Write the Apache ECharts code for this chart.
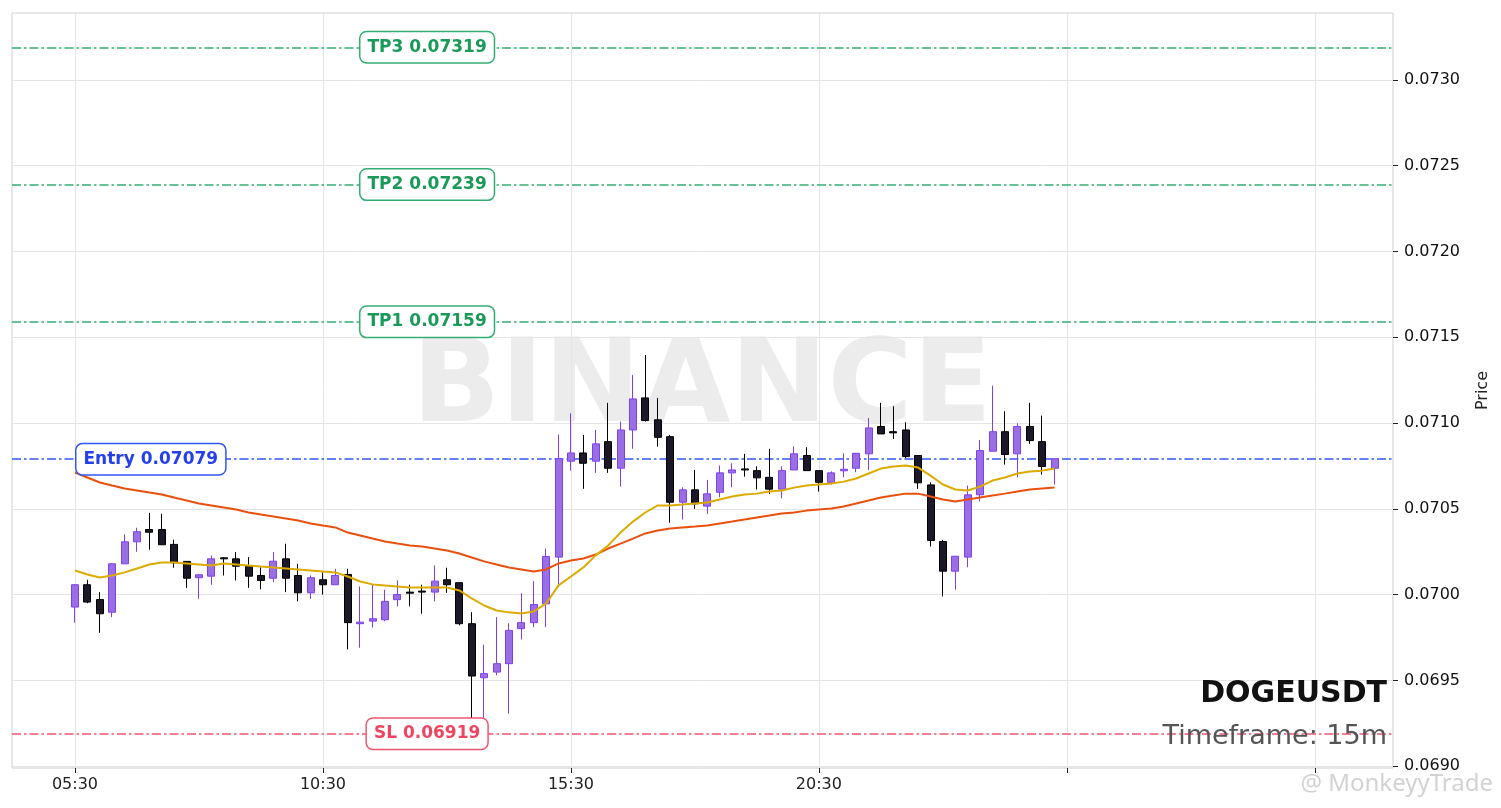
<!DOCTYPE html>
<html>
<head>
<meta charset="utf-8">
<script src="https://cdn.jsdelivr.net/npm/echarts@6/dist/echarts.min.js"></script>
<style>html,body{margin:0;padding:0;background:#fff}#c{width:1501px;height:808px}</style>
</head>
<body>
<div id="c"></div>
<script>
const symbolName = 'DOGEUSDT';
const timeframe = '15m';

const opens = [0.069928,0.070058,0.069972,0.069898,0.070180,0.070308,0.070380,0.070380,0.070293,0.070194,
0.070099,0.070108,0.070215,0.070209,0.070166,0.070112,0.070096,0.070209,0.070112,0.070011,
0.070087,0.070058,0.070118,0.069831,0.069846,0.069854,0.069971,0.070015,0.070021,0.070015,
0.070087,0.070070,0.069831,0.069516,0.069549,0.069598,0.069802,0.069837,0.069947,0.070219,
0.070778,0.070826,0.070778,0.070892,0.070737,0.070960,0.071147,0.071019,0.070921,0.070539,
0.070611,0.070516,0.070597,0.070710,0.070733,0.070723,0.070684,0.070615,0.070727,0.070811,
0.070723,0.070655,0.070722,0.070737,0.070821,0.070980,0.070950,0.070960,0.070811,0.070640,
0.070310,0.070137,0.070219,0.070582,0.070836,0.070950,0.070821,0.070980,0.070892,0.070737];

const closes = [0.070058,0.069957,0.069889,0.070180,0.070308,0.070367,0.070364,0.070291,0.070186,0.070096,
0.070116,0.070209,0.070209,0.070166,0.070108,0.070083,0.070195,0.070096,0.070011,0.070099,
0.070058,0.070112,0.069837,0.069840,0.069860,0.069961,0.070001,0.070009,0.070015,0.070079,
0.070058,0.069831,0.069526,0.069540,0.069598,0.069792,0.069837,0.069943,0.070223,0.070792,
0.070826,0.070766,0.070879,0.070737,0.070960,0.071141,0.071015,0.070917,0.070539,0.070611,
0.070530,0.070588,0.070710,0.070727,0.070727,0.070681,0.070615,0.070723,0.070821,0.070723,
0.070655,0.070710,0.070731,0.070824,0.070972,0.070937,0.070943,0.070805,0.070652,0.070316,
0.070137,0.070224,0.070582,0.070840,0.070950,0.070817,0.070980,0.070898,0.070747,0.070792];

const lows = [0.069837,0.069950,0.069778,0.069869,0.070180,0.070250,0.070262,0.070289,0.070157,0.070040,
0.069976,0.070058,0.070112,0.070083,0.070040,0.070031,0.070073,0.070015,0.069961,0.069976,
0.070001,0.070058,0.069681,0.069691,0.069808,0.069846,0.069932,0.069932,0.069889,0.069961,
0.070011,0.069821,0.069268,0.069268,0.069530,0.069307,0.069739,0.069811,0.069811,0.070044,
0.070723,0.070617,0.070710,0.070710,0.070630,0.070850,0.071009,0.070863,0.070419,0.070438,
0.070500,0.070471,0.070568,0.070626,0.070688,0.070613,0.070588,0.070562,0.070727,0.070723,
0.070601,0.070642,0.070684,0.070714,0.070727,0.070937,0.070908,0.070795,0.070617,0.070281,
0.069990,0.070029,0.070160,0.070543,0.070836,0.070758,0.070684,0.070879,0.070700,0.070642];

const highs = [0.070060,0.070087,0.070015,0.070184,0.070351,0.070390,0.070477,0.070471,0.070320,0.070194,
0.070118,0.070229,0.070219,0.070248,0.070219,0.070160,0.070248,0.070297,0.070180,0.070112,
0.070131,0.070151,0.070151,0.070048,0.070058,0.070029,0.070083,0.070058,0.070058,0.070170,
0.070157,0.070070,0.069898,0.069709,0.069869,0.069834,0.070009,0.070079,0.070269,0.070933,
0.071057,0.070931,0.070960,0.071118,0.071009,0.071281,0.071397,0.071147,0.070931,0.070626,
0.070727,0.070669,0.070753,0.070766,0.070821,0.070748,0.070850,0.070748,0.070865,0.070859,
0.070723,0.070719,0.070824,0.070826,0.071030,0.071118,0.071098,0.071005,0.070811,0.070655,
0.070320,0.070226,0.070636,0.070902,0.071218,0.071069,0.070999,0.071118,0.071044,0.070792];

const emaFast = [0.070141,0.070118,0.070100,0.070112,0.070130,0.070153,0.070176,0.070188,0.070188,0.070182,
0.070176,0.070170,0.070182,0.070176,0.070170,0.070164,0.070159,0.070153,0.070147,0.070141,
0.070135,0.070130,0.070106,0.070077,0.070060,0.070054,0.070048,0.070042,0.070042,0.070042,
0.070042,0.070025,0.069978,0.069937,0.069908,0.069897,0.069891,0.069902,0.069949,0.070054,
0.070106,0.070159,0.070229,0.070287,0.070362,0.070426,0.070479,0.070520,0.070520,0.070525,
0.070531,0.070537,0.070555,0.070572,0.070584,0.070589,0.070601,0.070607,0.070624,0.070636,
0.070642,0.070648,0.070659,0.070677,0.070706,0.070735,0.070747,0.070753,0.070741,0.070694,
0.070642,0.070613,0.070607,0.070630,0.070665,0.070683,0.070706,0.070718,0.070723,0.070735];

const emaSlow = [0.070712,0.070683,0.070654,0.070636,0.070619,0.070607,0.070595,0.070584,0.070566,0.070549,
0.070531,0.070520,0.070508,0.070496,0.070479,0.070467,0.070456,0.070444,0.070432,0.070415,
0.070403,0.070392,0.070362,0.070345,0.070327,0.070310,0.070298,0.070287,0.070281,0.070269,
0.070258,0.070240,0.070217,0.070194,0.070176,0.070159,0.070147,0.070135,0.070147,0.070182,
0.070199,0.070211,0.070234,0.070269,0.070298,0.070327,0.070357,0.070374,0.070386,0.070392,
0.070397,0.070403,0.070415,0.070426,0.070438,0.070450,0.070461,0.070473,0.070479,0.070490,
0.070496,0.070502,0.070514,0.070531,0.070549,0.070566,0.070578,0.070589,0.070589,0.070572,
0.070555,0.070543,0.070555,0.070566,0.070578,0.070589,0.070601,0.070613,0.070619,0.070624];

const levelNames = ['TP3', 'TP2', 'TP1', 'Entry', 'SL'];
const levelValues = [0.07319, 0.07239, 0.07159, 0.07079, 0.06919];

const tickPositions = [0, 20, 40, 60, 80, 100];
const tickLabels = ['05:30', '10:30', '15:30', '20:30', '', ''];
const priceTicks = [0.0690, 0.0695, 0.0700, 0.0705, 0.0710, 0.0715, 0.0720, 0.0725, 0.0730];

// ---- styling ----
const levelLineColor = {TP3:'#34ad73', TP2:'#34ad73', TP1:'#34ad73', Entry:'#3355f5', SL:'#f2566f'};
const levelTextColor = {TP3:'#1a9a58', TP2:'#1a9a58', TP1:'#1a9a58', Entry:'#2440ee', SL:'#ee4560'};

const candleData = opens.map((o, i) => [i, o, closes[i], lows[i], highs[i]]);
const fastData = emaFast.map((v, i) => [i, v]);
const slowData = emaSlow.map((v, i) => [i, v]);

const labelData = levelNames.map((n, k) => {
  const isEntry = n === 'Entry';
  return {
    value: [isEntry ? 0 : 28.4, levelValues[k]],
    label: {
      show: true,
      position: isEntry ? 'right' : 'inside',
      distance: 1,
      formatter: n + ' ' + levelValues[k].toFixed(5),
      color: levelTextColor[n],
      opacity: 1,
      fontFamily: 'DejaVu Sans',
      fontWeight: 'bold',
      fontSize: 17,
      lineHeight: 19,
      backgroundColor: '#ffffff',
      borderColor: levelLineColor[n],
      borderWidth: 1.5,
      borderRadius: 6,
      padding: [6, 7, 5, 7]
    }
  };
});

const chart = echarts.init(document.getElementById('c'), null, {renderer: 'canvas'});
chart.setOption({
  animation: false,
  backgroundColor: '#ffffff',
  grid: {left: 12, right: 108, top: 13, bottom: 40, show: true, borderColor: '#cfcfcf', borderWidth: 1, backgroundColor: 'transparent'},
  xAxis: {
    type: 'value', min: -5.08, max: 106.3,
    axisLine: {show: false, onZero: false},
    axisTick: {show: true, customValues: tickPositions, length: 5, lineStyle: {color: '#222', width: 1}},
    axisLabel: {
      customValues: tickPositions,
      formatter: v => { const k = tickPositions.indexOf(Math.round(v)); return k >= 0 ? tickLabels[k] : ''; },
      fontFamily: 'DejaVu Sans', fontSize: 16, color: '#222', margin: 9
    },
    splitLine: {show: true, lineStyle: {color: '#e5e5e5', width: 1}}
  },
  yAxis: {
    type: 'value', position: 'right', min: 0.06899, max: 0.07339, scale: true,
    axisLine: {show: false, onZero: false},
    axisTick: {show: true, customValues: priceTicks, length: 5, lineStyle: {color: '#222', width: 1}},
    axisLabel: {customValues: priceTicks, formatter: v => v.toFixed(4), fontFamily: 'DejaVu Sans', fontSize: 16, color: '#111', margin: 11},
    splitLine: {show: true, lineStyle: {color: '#e5e5e5', width: 1}},
    name: 'Price', nameLocation: 'middle', nameGap: 82, nameRotate: 90,
    nameTextStyle: {fontFamily: 'DejaVu Sans', fontSize: 16, color: '#222'}
  },
  graphic: {elements: [
    {type: 'text', z: -10, silent: true, style: {text: 'BINANCE', x: 702, y: 391, align: 'center', verticalAlign: 'middle', font: 'bold 116px "DejaVu Sans"', fill: '#ececec'}},
    {type: 'text', z: 100, silent: true, style: {text: symbolName, x: 1387, y: 694, align: 'right', verticalAlign: 'middle', font: 'bold 30px "DejaVu Sans"', fill: '#111111'}},
    {type: 'text', z: 100, silent: true, style: {text: 'Timeframe: ' + timeframe, x: 1387, y: 737, align: 'right', verticalAlign: 'middle', font: '27px "DejaVu Sans"', fill: '#555555'}},
    {type: 'text', z: 100, silent: true, style: {text: '@ MonkeyyTrade', x: 1493, y: 784, align: 'right', verticalAlign: 'middle', font: '24px "Noto Sans"', fill: '#d2d2d2'}}
  ]},
  series: [
    {
      type: 'candlestick', name: 'Price', data: candleData, z: 3,
      encode: {x: 0, y: [1, 2, 3, 4]},
      barWidth: 7.5,
      itemStyle: {color: '#9b6fe4', color0: '#1c1827', borderColor: '#7d3ff0', borderColor0: '#000000', borderWidth: 1}
    },
    {type: 'line', name: 'EMA slow', data: slowData, showSymbol: false, smooth: false, z: 4, lineStyle: {color: '#ea500d', width: 2}},
    {type: 'line', name: 'EMA fast', data: fastData, showSymbol: false, smooth: false, z: 4, lineStyle: {color: '#dcab00', width: 2}},
    {
      type: 'scatter', data: labelData, symbolSize: 1, itemStyle: {color: 'rgba(0,0,0,0)', opacity: 1}, z: 10, silent: true,
      markLine: {
        symbol: 'none', silent: true, animation: false, z: 2, precision: 6,
        label: {show: false},
        data: levelNames.map((n, k) => ({yAxis: levelValues[k], lineStyle: {color: levelLineColor[n], width: 1.5, type: [9, 3, 2.5, 3], opacity: 1}}))
      }
    }
  ]
});
</script>
</body>
</html>
